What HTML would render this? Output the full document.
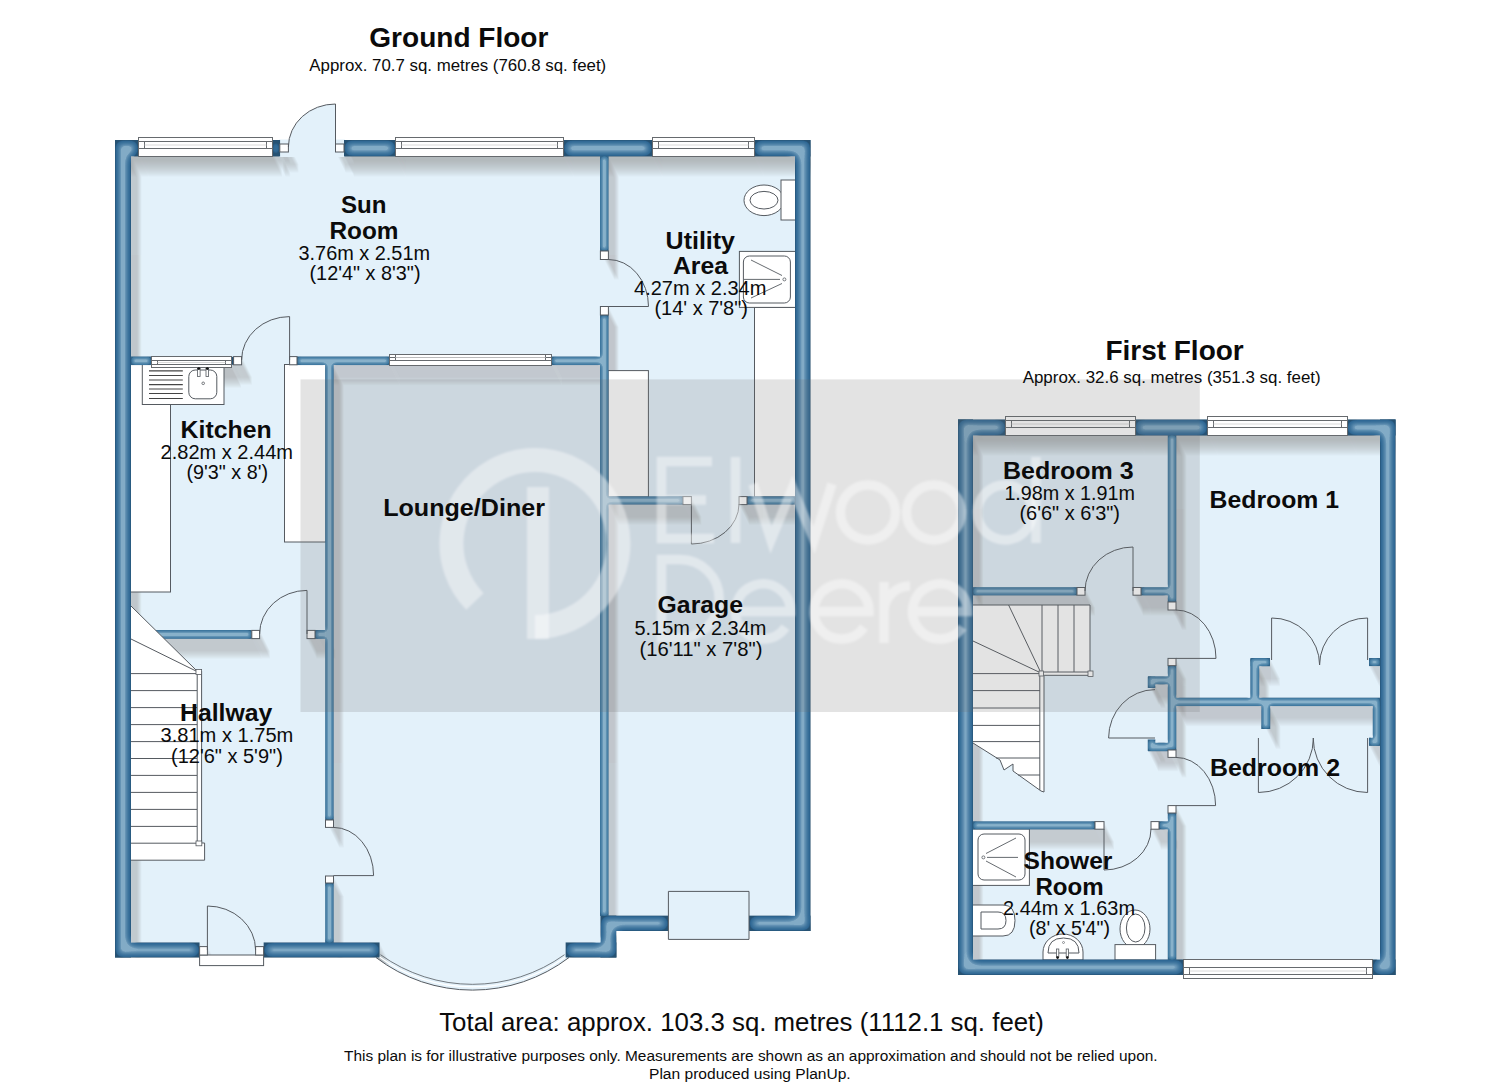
<!DOCTYPE html>
<html><head><meta charset="utf-8"><title>Floor plan</title>
<style>
html,body{margin:0;padding:0;background:#fff;}
body{width:1500px;height:1091px;overflow:hidden;font-family:"Liberation Sans",sans-serif;}
svg{display:block}
text{font-family:"Liberation Sans",sans-serif;fill:#0b0b0b}
</style></head><body>
<svg width="1500" height="1091" viewBox="0 0 1500 1091">
<defs>
<g id="gfwA"><rect x="115.0" y="140.0" width="23.5" height="16.5" /><rect x="271.6" y="140.0" width="8.5" height="16.5" /><rect x="344.0" y="140.0" width="51.7" height="16.5" /><rect x="563.6" y="140.0" width="88.6" height="16.5" /><rect x="754.0" y="140.0" width="56.5" height="16.5" /><rect x="115.0" y="140.0" width="16.0" height="817.5" /><rect x="795.0" y="140.0" width="15.5" height="791.0" /><rect x="115.0" y="942.4" width="84.6" height="15.1" /><rect x="263.6" y="942.4" width="116.0" height="15.1" /><rect x="565.6" y="942.4" width="50.8" height="15.1" /><rect x="600.4" y="915.6" width="16.0" height="41.9" /><rect x="608.0" y="915.6" width="60.4" height="15.4" /><rect x="749.0" y="915.6" width="61.5" height="15.4" /><rect x="230.7" y="356.8" width="3.3" height="8.0" /></g>
<g id="gfwB"><rect x="600.0" y="156.0" width="8.7" height="95.0" /><rect x="600.0" y="315.0" width="8.7" height="601.0" /><rect x="131.0" y="356.4" width="20.0" height="8.7" /><rect x="297.0" y="356.4" width="92.6" height="8.7" /><rect x="551.6" y="356.4" width="48.8" height="8.7" /><rect x="325.1" y="364.0" width="8.7" height="456.0" /><rect x="325.1" y="883.0" width="8.7" height="60.0" /><rect x="131.0" y="630.0" width="120.8" height="8.9" /><rect x="315.0" y="630.0" width="10.5" height="8.9" /><rect x="608.0" y="496.2" width="75.0" height="8.5" /><rect x="747.0" y="496.2" width="48.0" height="8.5" /></g>
<g id="ffwA"><rect x="958.0" y="419.4" width="15.0" height="555.6" /><rect x="958.0" y="419.4" width="47.6" height="16.2" /><rect x="1135.0" y="419.4" width="72.5" height="16.2" /><rect x="1347.0" y="419.4" width="48.6" height="16.2" /><rect x="1380.0" y="419.4" width="15.6" height="555.6" /><rect x="958.0" y="959.4" width="225.6" height="15.6" /><rect x="1372.6" y="959.4" width="23.0" height="15.6" /></g>
<g id="ffwB"><rect x="1167.7" y="435.0" width="8.7" height="167.0" /><rect x="1167.7" y="665.6" width="8.7" height="84.4" /><rect x="1167.7" y="813.0" width="8.7" height="147.0" /><rect x="973.0" y="587.1" width="104.0" height="8.4" /><rect x="1141.0" y="587.1" width="27.0" height="8.4" /><rect x="1176.0" y="697.6" width="204.0" height="8.5" /><rect x="1148.0" y="676.2" width="20.0" height="8.3" /><rect x="1147.7" y="676.6" width="7.7" height="11.4" /><rect x="1148.0" y="742.6" width="20.0" height="8.7" /><rect x="1147.7" y="739.4" width="7.7" height="11.6" /><rect x="1250.2" y="658.4" width="9.1" height="39.6" /><rect x="1250.6" y="658.0" width="19.4" height="8.3" /><rect x="1369.0" y="658.0" width="11.0" height="8.1" /><rect x="1261.2" y="705.8" width="9.1" height="23.2" /><rect x="1372.7" y="705.8" width="7.7" height="39.8" /><rect x="1369.0" y="737.6" width="11.0" height="8.3" /><rect x="973.0" y="821.2" width="122.0" height="8.3" /><rect x="1159.0" y="821.2" width="9.0" height="8.3" /></g>
<g id="gfs"><rect x="115.0" y="140.0" width="23.5" height="16.5" /><rect x="275.4" y="140.0" width="4.7" height="16.5" /><rect x="344.0" y="140.0" width="51.7" height="16.5" /><rect x="563.6" y="140.0" width="88.6" height="16.5" /><rect x="754.0" y="140.0" width="56.5" height="16.5" /><rect x="126.7" y="140.0" width="4.7" height="817.5" /><rect x="806.1" y="140.0" width="4.7" height="791.0" /><rect x="115.0" y="942.4" width="84.6" height="15.1" /><rect x="263.6" y="942.4" width="116.0" height="15.1" /><rect x="565.6" y="942.4" width="50.8" height="15.1" /><rect x="612.0" y="915.6" width="4.7" height="41.9" /><rect x="608.0" y="915.6" width="60.4" height="15.4" /><rect x="749.0" y="915.6" width="61.5" height="15.4" /><rect x="604.0" y="156.0" width="4.7" height="95.0" /><rect x="604.0" y="315.0" width="4.7" height="601.0" /><rect x="131.0" y="356.4" width="20.0" height="8.7" /><rect x="229.2" y="356.8" width="4.7" height="8.0" /><rect x="297.0" y="356.4" width="92.6" height="8.7" /><rect x="551.6" y="356.4" width="48.8" height="8.7" /><rect x="329.1" y="364.0" width="4.7" height="456.0" /><rect x="329.1" y="883.0" width="4.7" height="60.0" /><rect x="131.0" y="630.0" width="120.8" height="8.9" /><rect x="315.0" y="630.0" width="10.5" height="8.9" /><rect x="608.0" y="496.2" width="75.0" height="8.5" /><rect x="747.0" y="496.2" width="48.0" height="8.5" /><rect x="279.8" y="143.7" width="8.6" height="8.7" /><rect x="335.5" y="143.7" width="8.5" height="8.7" /><rect x="604.0" y="251.0" width="4.7" height="8.5" /><rect x="604.0" y="306.5" width="4.7" height="8.5" /><rect x="233.2" y="356.6" width="8.7" height="8.2" /><rect x="289.2" y="356.6" width="8.1" height="8.2" /><rect x="251.5" y="630.4" width="8.5" height="8.2" /><rect x="306.6" y="630.4" width="8.7" height="8.2" /><rect x="683.0" y="496.2" width="8.4" height="8.7" /><rect x="739.0" y="496.2" width="8.0" height="8.7" /><rect x="329.1" y="820.0" width="4.7" height="7.4" /><rect x="329.1" y="876.0" width="4.7" height="7.0" /><rect x="199.2" y="946.6" width="8.5" height="8.4" /><rect x="255.2" y="946.6" width="8.7" height="8.4" /><rect x="138.5" y="140.0" width="133.5" height="16.5" /><rect x="395.7" y="140.0" width="167.9" height="16.5" /><rect x="652.2" y="140.0" width="101.8" height="16.5" /><rect x="151.0" y="356.4" width="80.0" height="11.4" /><rect x="389.5" y="356.4" width="162.1" height="8.9" /></g>
<g id="ffs"><rect x="968.6" y="419.4" width="4.7" height="555.6" /><rect x="958.0" y="419.4" width="47.6" height="16.2" /><rect x="1135.0" y="419.4" width="72.5" height="16.2" /><rect x="1347.0" y="419.4" width="48.6" height="16.2" /><rect x="1391.2" y="419.4" width="4.7" height="555.6" /><rect x="958.0" y="959.4" width="225.6" height="15.6" /><rect x="1372.6" y="959.4" width="23.0" height="15.6" /><rect x="1171.7" y="435.0" width="4.7" height="167.0" /><rect x="1171.7" y="665.6" width="4.7" height="84.4" /><rect x="1171.7" y="813.0" width="4.7" height="147.0" /><rect x="973.0" y="587.1" width="104.0" height="8.4" /><rect x="1141.0" y="587.1" width="27.0" height="8.4" /><rect x="1176.0" y="697.6" width="204.0" height="8.5" /><rect x="1148.0" y="676.2" width="20.0" height="8.3" /><rect x="1150.7" y="676.6" width="4.7" height="11.4" /><rect x="1148.0" y="742.6" width="20.0" height="8.7" /><rect x="1150.7" y="739.4" width="4.7" height="11.6" /><rect x="1254.7" y="658.4" width="4.7" height="39.6" /><rect x="1250.6" y="658.0" width="19.4" height="8.3" /><rect x="1369.0" y="658.0" width="11.0" height="8.1" /><rect x="1265.7" y="705.8" width="4.7" height="23.2" /><rect x="1375.7" y="705.8" width="4.7" height="39.8" /><rect x="1369.0" y="737.6" width="11.0" height="8.3" /><rect x="973.0" y="821.2" width="122.0" height="8.3" /><rect x="1159.0" y="821.2" width="9.0" height="8.3" /><rect x="1077.0" y="587.1" width="8.0" height="8.4" /><rect x="1133.0" y="587.1" width="8.0" height="8.4" /><rect x="1171.7" y="602.0" width="4.7" height="8.0" /><rect x="1171.7" y="658.4" width="4.7" height="7.2" /><rect x="1171.7" y="750.0" width="4.7" height="7.4" /><rect x="1171.7" y="805.6" width="4.7" height="7.4" /><rect x="1095.0" y="821.2" width="9.0" height="8.3" /><rect x="1151.0" y="821.2" width="8.0" height="8.3" /><rect x="1005.6" y="419.4" width="129.4" height="16.2" /><rect x="1207.5" y="419.4" width="139.5" height="16.2" /><rect x="1183.6" y="959.4" width="189.0" height="15.6" /></g>
<clipPath id="gfclip"><path d="M115,140H810.5V931H616.4V957.5H569A159.1,159.1 0 0 1 376,957.5H115Z"/></clipPath>
<clipPath id="ffclip"><path d="M958,419.4H1395.6V975H958Z"/></clipPath>
<filter id="tubeA" x="-2%" y="-2%" width="104%" height="104%" color-interpolation-filters="sRGB">
<feGaussianBlur in="SourceAlpha" stdDeviation="4.4" result="b"/>
<feComponentTransfer in="b" result="m"><feFuncA type="table" tableValues="0 0 0 0 0 0 0 0 0 0 0 0 0 0 0 0 0 0 0 0 0 0 0 0 0 0 0 0 0 0 0 0.005 0.012 0.021 0.033 0.045 0.058 0.073 0.09 0.108 0.126 0.146 0.166 0.189 0.214 0.241 0.27 0.302 0.335 0.371 0.412 0.457 0.509 0.572 0.649 0.757 1 1 1 1 1"/></feComponentTransfer>
<feFlood flood-color="#82abc6" result="f"/>
<feComposite in="f" in2="m" operator="in" result="hl"/>
<feComponentTransfer in="b" result="e"><feFuncA type="table" tableValues="1 1 1 1 1 1 1 1 1 1 1 1 1 1 1 1 1 1 1 1 1 1 1 1 1 1 1 1 1 1 1 0.833 0.667 0.5 0.333 0.167 0 0 0 0 0 0 0 0 0 0 0 0 0 0 0 0 0 0 0 0 0 0 0 0 0"/></feComponentTransfer>
<feFlood flood-color="#264d6b" flood-opacity="0.8" result="f2"/>
<feComposite in="f2" in2="e" operator="in" result="ed"/>
<feMerge result="mm"><feMergeNode in="SourceGraphic"/><feMergeNode in="hl"/><feMergeNode in="ed"/></feMerge>
<feComposite in="mm" in2="SourceAlpha" operator="in"/>
</filter><filter id="tubeB" x="-2%" y="-2%" width="104%" height="104%" color-interpolation-filters="sRGB">
<feGaussianBlur in="SourceAlpha" stdDeviation="2.35" result="b"/>
<feComponentTransfer in="b" result="m"><feFuncA type="table" tableValues="0 0 0 0 0 0 0 0 0 0 0 0 0 0 0 0 0 0 0 0 0 0 0 0 0 0 0 0 0 0 0 0.005 0.012 0.021 0.033 0.045 0.058 0.073 0.09 0.108 0.126 0.146 0.166 0.189 0.214 0.241 0.27 0.302 0.335 0.371 0.412 0.457 0.509 0.572 0.649 0.757 1 1 1 1 1"/></feComponentTransfer>
<feFlood flood-color="#88b1ca" result="f"/>
<feComposite in="f" in2="m" operator="in" result="hl"/>
<feComponentTransfer in="b" result="e"><feFuncA type="table" tableValues="1 1 1 1 1 1 1 1 1 1 1 1 1 1 1 1 1 1 1 1 1 1 1 1 1 1 1 1 1 1 1 0.833 0.667 0.5 0.333 0.167 0 0 0 0 0 0 0 0 0 0 0 0 0 0 0 0 0 0 0 0 0 0 0 0 0"/></feComponentTransfer>
<feFlood flood-color="#2f5f82" flood-opacity="0.7" result="f2"/>
<feComposite in="f2" in2="e" operator="in" result="ed"/>
<feMerge result="mm"><feMergeNode in="SourceGraphic"/><feMergeNode in="hl"/><feMergeNode in="ed"/></feMerge>
<feComposite in="mm" in2="SourceAlpha" operator="in"/>
</filter>
<filter id="soft"><feGaussianBlur stdDeviation="0.9"/></filter>
</defs>
<rect width="1500" height="1091" fill="#fff"/>
<!-- floors -->
<path d="M115,140H810.5V931H616.4V957.5H569A159.1,159.1 0 0 1 376,957.5H115Z" fill="#e3f1fa"/>
<path d="M958,419.4H1395.6V975H958Z" fill="#e3f1fa"/>
<path d="M288.4,148 A47.1,44 0 0 1 335.5,104 V157H288.4Z" fill="#e3f1fa"/>
<!-- shadows -->
<g clip-path="url(#gfclip)"><use href="#gfs" transform="translate(0.5,1)" fill="#918c8c" opacity="0.049"/><use href="#gfs" transform="translate(1.0,2)" fill="#918c8c" opacity="0.049"/><use href="#gfs" transform="translate(1.5,3)" fill="#918c8c" opacity="0.049"/><use href="#gfs" transform="translate(2.0,4)" fill="#918c8c" opacity="0.049"/><use href="#gfs" transform="translate(2.5,5)" fill="#918c8c" opacity="0.049"/><use href="#gfs" transform="translate(3.0,6)" fill="#918c8c" opacity="0.049"/><use href="#gfs" transform="translate(3.5,7)" fill="#918c8c" opacity="0.049"/><use href="#gfs" transform="translate(4.0,8)" fill="#918c8c" opacity="0.049"/><use href="#gfs" transform="translate(4.5,9)" fill="#918c8c" opacity="0.049"/><use href="#gfs" transform="translate(5.0,10)" fill="#918c8c" opacity="0.049"/><use href="#gfs" transform="translate(5.5,11)" fill="#918c8c" opacity="0.049"/><use href="#gfs" transform="translate(6.0,12)" fill="#918c8c" opacity="0.049"/><use href="#gfs" transform="translate(6.5,13)" fill="#918c8c" opacity="0.049"/><use href="#gfs" transform="translate(7.0,14)" fill="#918c8c" opacity="0.049"/><use href="#gfs" transform="translate(7.5,15)" fill="#918c8c" opacity="0.049"/><use href="#gfs" transform="translate(8.0,16)" fill="#918c8c" opacity="0.049"/><use href="#gfs" transform="translate(8.5,17)" fill="#918c8c" opacity="0.049"/><use href="#gfs" transform="translate(9.0,18)" fill="#918c8c" opacity="0.049"/><use href="#gfs" transform="translate(9.5,19)" fill="#918c8c" opacity="0.049"/><use href="#gfs" transform="translate(10.0,20)" fill="#918c8c" opacity="0.049"/></g>
<g clip-path="url(#ffclip)"><use href="#ffs" transform="translate(0.5,1)" fill="#918c8c" opacity="0.049"/><use href="#ffs" transform="translate(1.0,2)" fill="#918c8c" opacity="0.049"/><use href="#ffs" transform="translate(1.5,3)" fill="#918c8c" opacity="0.049"/><use href="#ffs" transform="translate(2.0,4)" fill="#918c8c" opacity="0.049"/><use href="#ffs" transform="translate(2.5,5)" fill="#918c8c" opacity="0.049"/><use href="#ffs" transform="translate(3.0,6)" fill="#918c8c" opacity="0.049"/><use href="#ffs" transform="translate(3.5,7)" fill="#918c8c" opacity="0.049"/><use href="#ffs" transform="translate(4.0,8)" fill="#918c8c" opacity="0.049"/><use href="#ffs" transform="translate(4.5,9)" fill="#918c8c" opacity="0.049"/><use href="#ffs" transform="translate(5.0,10)" fill="#918c8c" opacity="0.049"/><use href="#ffs" transform="translate(5.5,11)" fill="#918c8c" opacity="0.049"/><use href="#ffs" transform="translate(6.0,12)" fill="#918c8c" opacity="0.049"/><use href="#ffs" transform="translate(6.5,13)" fill="#918c8c" opacity="0.049"/><use href="#ffs" transform="translate(7.0,14)" fill="#918c8c" opacity="0.049"/><use href="#ffs" transform="translate(7.5,15)" fill="#918c8c" opacity="0.049"/><use href="#ffs" transform="translate(8.0,16)" fill="#918c8c" opacity="0.049"/><use href="#ffs" transform="translate(8.5,17)" fill="#918c8c" opacity="0.049"/><use href="#ffs" transform="translate(9.0,18)" fill="#918c8c" opacity="0.049"/><use href="#ffs" transform="translate(9.5,19)" fill="#918c8c" opacity="0.049"/><use href="#ffs" transform="translate(10.0,20)" fill="#918c8c" opacity="0.049"/></g>
<path d="M279,139.5H345V157H279Z" fill="#e3f1fa"/>
<!-- bay window line -->
<path d="M376,957.5A159.1,159.1 0 0 0 569,957.5" fill="none" stroke="#555a60" stroke-width="1"/>
<path d="M378,957.5A160,160 0 0 0 567,957.5" fill="none" stroke="#fff" stroke-width="1.2" transform="translate(0,-1.6)"/>
<path d="M380.5,957.5A160,163 0 0 0 564.5,957.5" fill="none" stroke="#555a60" stroke-width="0.8" transform="translate(0,-2.8)"/>
<!-- furniture -->
<rect x="130" y="364" width="40.5" height="228.0" fill="#fff" stroke="#555a60" stroke-width="1"/><rect x="284.5" y="364.5" width="41.5" height="177.5" fill="#fff" stroke="#555a60" stroke-width="1"/><rect x="142.3" y="364" width="81.7" height="40.5" fill="#fff" stroke="#555a60" stroke-width="1"/><path d="M149,370.8H182.8M149,375.5H182.8M149,380H182.8M149,384.7H182.8M149,389H182.8M149,393.5H182.8M149,398.5H182.8" stroke="#444" stroke-width="1.2" fill="none"/><rect x="188.8" y="370" width="28" height="28.8" rx="6.5" fill="#fff" stroke="#555a60" stroke-width="1"/><rect x="197.5" y="368" width="2.6" height="8.5" fill="#fff" stroke="#555a60" stroke-width="0.8"/><rect x="206" y="368" width="2.6" height="8.5" fill="#fff" stroke="#555a60" stroke-width="0.8"/><circle cx="203.2" cy="383.3" r="1.3" fill="none" stroke="#555a60" stroke-width="0.8"/><rect x="608" y="370.6" width="40.4" height="126.4" fill="#fff" stroke="#555a60" stroke-width="1"/><rect x="754.5" y="307.4" width="41.5" height="189.6" fill="#fff" stroke="#555a60" stroke-width="1"/><rect x="739.4" y="251.4" width="56.6" height="56.0" fill="#fff" stroke="#555a60" stroke-width="1"/><rect x="743.4" y="256" width="47" height="47" rx="6" fill="#fff" stroke="#555a60" stroke-width="1"/><path d="M782,275.5L751,260M780,279.4H744M782,283.5L751,298" stroke="#555a60" stroke-width="0.9" fill="none"/><circle cx="784.4" cy="279.4" r="1.5" fill="none" stroke="#555a60" stroke-width="0.8"/><ellipse cx="764" cy="200.3" rx="20" ry="15.3" fill="#fff" stroke="#555a60" stroke-width="1"/><ellipse cx="764" cy="200.2" rx="14" ry="8.8" fill="#fff" stroke="#555a60" stroke-width="1"/><rect x="781" y="180" width="15.0" height="40.0" fill="#fff" stroke="#555a60" stroke-width="1"/><rect x="972" y="829" width="57.4" height="56.4" fill="#fff" stroke="#555a60" stroke-width="1"/><rect x="978" y="834" width="47" height="46" rx="6" fill="#fff" stroke="#555a60" stroke-width="1"/><path d="M986,853.5L1016,838M987,857.4H1018M986,861L1016,877" stroke="#555a60" stroke-width="0.9" fill="none"/><circle cx="983.4" cy="857.4" r="1.5" fill="none" stroke="#555a60" stroke-width="0.8"/><path d="M972,905H1003Q1015,905 1015,920.5Q1015,936 1003,936H972Z" fill="#fff" stroke="#555a60" stroke-width="1"/><path d="M981,912H998Q1006,912 1006,920.5Q1006,929 998,929H981Z" fill="#fff" stroke="#555a60" stroke-width="1"/><path d="M1043,960V952A20,18 0 0 1 1083,952V960Z" fill="#fff" stroke="#555a60" stroke-width="1"/><path d="M1048,953Q1048,938 1063.5,938Q1079,938 1079,953Z" fill="#fff" stroke="#555a60" stroke-width="1"/><rect x="1056.4" y="949" width="2.4" height="8" fill="#fff" stroke="#555a60" stroke-width="0.8"/><rect x="1066.2" y="949" width="2.4" height="8" fill="#fff" stroke="#555a60" stroke-width="0.8"/><circle cx="1057.6" cy="957.6" r="1.3" fill="#111"/><circle cx="1067.4" cy="957.6" r="1.3" fill="#111"/><circle cx="1063.5" cy="942.5" r="1" fill="none" stroke="#555a60" stroke-width="0.6"/><ellipse cx="1135" cy="929" rx="15" ry="19" fill="#fff" stroke="#555a60" stroke-width="1"/><ellipse cx="1135.7" cy="928" rx="9.3" ry="14" fill="#fff" stroke="#555a60" stroke-width="1"/><rect x="1115" y="944.6" width="40.6" height="15.4" fill="#fff" stroke="#555a60" stroke-width="1"/>
<!-- walls -->
<g filter="url(#tubeA)" fill="#2b6592"><use href="#gfwA"/><use href="#ffwA"/></g>
<g filter="url(#tubeB)" fill="#3d779f"><use href="#gfwB"/><use href="#ffwB"/></g>
<!-- garage door -->
<path d="M668.4,891.4H749V939.4H668.4Z" fill="#e3f1fa" stroke="#555a60" stroke-width="1"/>
<!-- front step -->
<rect x="199.6" y="955" width="64" height="10.6" fill="#fff" stroke="#555a60" stroke-width="1"/>
<!-- stairs -->
<path d="M131,606L197,671H201.6V843H204.6V860.2H131Z" fill="#fff" stroke="none"/><path d="M131,606L197,671M131,639L197,671.5M201.6,671V843H204.6V860.2H131" fill="none" stroke="#555a60" stroke-width="1"/><path d="M131,673.6H197M131,690.6H197M131,707.6H197M131,724.6H197M131,741.6H197M131,758.5H197M131,775.4H197M131,792.4H197M131,809.4H197M131,826.4H197M131,843.2H197" stroke="#555a60" stroke-width="1" fill="none"/><path d="M197.2,673V843" stroke="#555a60" stroke-width="1" fill="none"/><rect x="196" y="669.5" width="5.6" height="5" fill="#fff" stroke="#555a60" stroke-width="0.8"/><rect x="196" y="841" width="5.8" height="4.8" fill="#fff" stroke="#555a60" stroke-width="0.8"/><path d="M973,605H1090V675H1044V792L1041,791L1013,771V764L1004,770L1000,760L973,743Z" fill="#fff" stroke="none"/><path d="M973,605H1090V672M1042,605V672M1058,605V672M1074,605V672M1041,673L1008.6,605M1041,673L973,641M973,673.6H1041M1041,672H1090M1043,675.3H1090M1039.8,676V790M1044,676V792L1041,791L1013,771V764L1004,770L1000,760L973,743" fill="none" stroke="#555a60" stroke-width="1"/><path d="M973,690.6H1040M973,708H1040M973,725.4H1040M973,741.6H1040M996,758H1040M1018,775H1040" stroke="#555a60" stroke-width="1" fill="none"/><rect x="1088" y="671" width="5" height="5.4" fill="#fff" stroke="#555a60" stroke-width="0.8"/><rect x="1039" y="671" width="4.6" height="5" fill="#fff" stroke="#555a60" stroke-width="0.8"/>
<!-- jambs -->
<g fill="#fff" stroke="#555a60" stroke-width="1"><rect x="279.8" y="144.0" width="8.6" height="8.0" /><rect x="335.5" y="144.0" width="8.5" height="8.0" /><rect x="600.4" y="251.0" width="8.0" height="8.5" /><rect x="600.4" y="306.5" width="8.0" height="8.5" /><rect x="233.6" y="356.6" width="8.0" height="8.2" /><rect x="289.6" y="356.6" width="7.4" height="8.2" /><rect x="251.8" y="630.4" width="7.8" height="8.2" /><rect x="307.0" y="630.4" width="8.0" height="8.2" /><rect x="683.0" y="496.6" width="8.4" height="8.0" /><rect x="739.0" y="496.6" width="8.0" height="8.0" /><rect x="325.5" y="820.0" width="8.0" height="7.4" /><rect x="325.5" y="876.0" width="8.0" height="7.0" /><rect x="199.6" y="946.6" width="7.8" height="8.4" /><rect x="255.6" y="946.6" width="8.0" height="8.4" /><rect x="1077.0" y="587.5" width="8.0" height="7.7" /><rect x="1133.0" y="587.5" width="8.0" height="7.7" /><rect x="1168.0" y="602.0" width="8.0" height="8.0" /><rect x="1168.0" y="658.4" width="8.0" height="7.2" /><rect x="1168.0" y="750.0" width="8.0" height="7.4" /><rect x="1168.0" y="805.6" width="8.0" height="7.4" /><rect x="1095.0" y="821.6" width="9.0" height="7.6" /><rect x="1151.0" y="821.6" width="8.0" height="7.6" /></g>
<!-- windows -->
<rect x="138.5" y="137.5" width="134.0" height="19.0" fill="#fff" stroke="#666a6e" stroke-width="1"/><path d="M138.5,141.5H272.5M138.5,148.5H272.5M144.5,141.5V148.5M266.5,141.5V148.5" stroke="#666a6e" stroke-width="1" fill="none"/><path d="M144.5,145.0H266.5" stroke="#d0d0d0" stroke-width="0.8" fill="none"/><rect x="395.5" y="137.5" width="168.0" height="19.0" fill="#fff" stroke="#666a6e" stroke-width="1"/><path d="M395.5,141.5H563.5M395.5,148.5H563.5M401.5,141.5V148.5M557.5,141.5V148.5" stroke="#666a6e" stroke-width="1" fill="none"/><path d="M401.5,145.0H557.5" stroke="#d0d0d0" stroke-width="0.8" fill="none"/><rect x="652.5" y="137.5" width="102.0" height="19.0" fill="#fff" stroke="#666a6e" stroke-width="1"/><path d="M652.5,141.5H754.5M652.5,148.5H754.5M658.5,141.5V148.5M748.5,141.5V148.5" stroke="#666a6e" stroke-width="1" fill="none"/><path d="M658.5,145.0H748.5" stroke="#d0d0d0" stroke-width="0.8" fill="none"/><rect x="151.5" y="356.5" width="80.0" height="11.0" fill="#fff" stroke="#666a6e" stroke-width="1"/><path d="M151.5,360.5H231.5M151.5,364.5H231.5M157.5,360.5V364.5M225.5,360.5V364.5" stroke="#666a6e" stroke-width="1" fill="none"/><path d="M157.5,362.5H225.5" stroke="#d0d0d0" stroke-width="0.8" fill="none"/><rect x="389.5" y="354.5" width="162.0" height="11.0" fill="#fff" stroke="#666a6e" stroke-width="1"/><path d="M389.5,357.5H551.5M389.5,360.5H551.5M395.5,354.5V360.5M545.5,354.5V360.5" stroke="#666a6e" stroke-width="1" fill="none"/><path d="M395.5,357.5H545.5" stroke="#d0d0d0" stroke-width="0.8" fill="none"/><rect x="1005.5" y="416.5" width="130.0" height="19.0" fill="#fff" stroke="#666a6e" stroke-width="1"/><path d="M1005.5,420.5H1135.5M1005.5,427.5H1135.5M1011.5,420.5V427.5M1129.5,420.5V427.5" stroke="#666a6e" stroke-width="1" fill="none"/><path d="M1011.5,424.0H1129.5" stroke="#d0d0d0" stroke-width="0.8" fill="none"/><rect x="1207.5" y="416.5" width="140.0" height="19.0" fill="#fff" stroke="#666a6e" stroke-width="1"/><path d="M1207.5,420.5H1347.5M1207.5,427.5H1347.5M1213.5,420.5V427.5M1341.5,420.5V427.5" stroke="#666a6e" stroke-width="1" fill="none"/><path d="M1213.5,424.0H1341.5" stroke="#d0d0d0" stroke-width="0.8" fill="none"/><rect x="1183.5" y="959.5" width="189.0" height="19.0" fill="#fff" stroke="#666a6e" stroke-width="1"/><path d="M1183.5,967.5H1372.5M1183.5,974.5H1372.5M1189.5,967.5V974.5M1366.5,967.5V974.5" stroke="#666a6e" stroke-width="1" fill="none"/><path d="M1189.5,971.0H1366.5" stroke="#d0d0d0" stroke-width="0.8" fill="none"/>
<circle cx="198.8" cy="368.6" r="1.4" fill="#111"/><circle cx="207.3" cy="368.6" r="1.4" fill="#111"/>
<!-- doors -->
<path d="M288.4,147 A47.1,43 0 0 1 335.5,104 V148" fill="none" stroke="#555a60" stroke-width="1"/><path d="M608.4,259.5 A40.1,47 0 0 1 648.5,306.5 H608.4" fill="none" stroke="#555a60" stroke-width="1"/><path d="M241.6,360 A48,43.4 0 0 1 289.6,316.6 V360" fill="none" stroke="#555a60" stroke-width="1"/><path d="M259.6,634 A47.4,43.6 0 0 1 307,590.4 V634" fill="none" stroke="#555a60" stroke-width="1"/><path d="M691.4,504 V544 A47.6,40 0 0 0 739,504" fill="none" stroke="#555a60" stroke-width="1"/><path d="M333.5,827.4 A40.1,48.2 0 0 1 373.6,875.6 H333.5" fill="none" stroke="#555a60" stroke-width="1"/><path d="M207.4,950 V906 A48.2,44 0 0 1 255.6,950" fill="none" stroke="#555a60" stroke-width="1"/><path d="M1085,591 A48,44 0 0 1 1133,547 V591" fill="none" stroke="#555a60" stroke-width="1"/><path d="M1176,610 A40,48.4 0 0 1 1216,658.4 H1176" fill="none" stroke="#555a60" stroke-width="1"/><path d="M1176,757.4 A39.6,48.2 0 0 1 1215.6,805.6 H1176" fill="none" stroke="#555a60" stroke-width="1"/><path d="M1155,738 H1108.6 A46.4,48.4 0 0 1 1155,689.6" fill="none" stroke="#555a60" stroke-width="1"/><path d="M1104,829 V870 A47,41 0 0 0 1151,829" fill="none" stroke="#555a60" stroke-width="1"/><path d="M1271.6,660 V618 A47.5,47 0 0 1 1319.6,665" fill="none" stroke="#555a60" stroke-width="1"/><path d="M1367.6,660 V618 A47.5,47 0 0 0 1319.6,665" fill="none" stroke="#555a60" stroke-width="1"/><path d="M1258.4,738 V792.5 A55,54.5 0 0 0 1313.4,738" fill="none" stroke="#555a60" stroke-width="1"/><path d="M1367.6,738 V792.5 A54.4,54.5 0 0 1 1313.2,738" fill="none" stroke="#555a60" stroke-width="1"/>
<!-- watermark -->
<rect x="300.5" y="379.4" width="899.3" height="332.6" fill="#6a6a6a" fill-opacity="0.19"/>
<g fill="none" stroke="#fff" stroke-opacity="0.42" stroke-linecap="butt" filter="url(#soft)"><path d="M474.9,601.5 A83.5,83.5 0 1 1 535.0,627.0" stroke-width="24"/><path d="M538,639 V487" stroke-width="22"/><g stroke-width="9.5"><path d="M712,461.5H661.5V538.5H714M661.5,500H706"/><path d="M735.5,457V543"/><path d="M753,484L771,540L792.5,488L814,540L832,484"/><circle cx="868" cy="512.5" r="27.5"/><circle cx="934" cy="512.5" r="27.5"/><circle cx="1005" cy="512.5" r="27.5"/><path d="M1036,457V543"/><path d="M661.5,559.5V638H680A39.2,39.2 0 0 0 680,559.5Z"/><path d="M735.5,611.5H790.5A27.5,27.5 0 1 0 785.5,627.3"/><path d="M814.0,611.5H869.0A27.5,27.5 0 1 0 864.0,627.3"/><path d="M884,582V643M884,612A26,26 0 0 1 910,586"/><path d="M912.5,611.5H967.5A27.5,27.5 0 1 0 962.5,627.3"/></g></g>
<!-- text -->
<text x="369.3" y="47.4" font-size="28" font-weight="700" textLength="179.1" lengthAdjust="spacingAndGlyphs">Ground Floor</text><text x="309.3" y="70.7" font-size="16.9" textLength="296.9" lengthAdjust="spacingAndGlyphs">Approx. 70.7 sq. metres (760.8 sq. feet)</text><text x="1105.4" y="360.1" font-size="28" font-weight="700" textLength="138.3" lengthAdjust="spacingAndGlyphs">First Floor</text><text x="1022.7" y="382.8" font-size="16.9" textLength="298.0" lengthAdjust="spacingAndGlyphs">Approx. 32.6 sq. metres (351.3 sq. feet)</text><text x="439.2" y="1030.8" font-size="25.8" textLength="604.7" lengthAdjust="spacingAndGlyphs">Total area: approx. 103.3 sq. metres (1112.1 sq. feet)</text><text x="344.0" y="1061.0" font-size="15.5" textLength="813.6" lengthAdjust="spacingAndGlyphs">This plan is for illustrative purposes only. Measurements are shown as an approximation and should not be relied upon.</text><text x="649.0" y="1078.6" font-size="15.5" textLength="201.7" lengthAdjust="spacingAndGlyphs">Plan produced using PlanUp.</text><text x="341.0" y="213.0" font-size="24.8" font-weight="700" textLength="45.5" lengthAdjust="spacingAndGlyphs">Sun</text><text x="329.5" y="239.0" font-size="24.8" font-weight="700" textLength="69.0" lengthAdjust="spacingAndGlyphs">Room</text><text x="298.5" y="259.5" font-size="19.9" textLength="131.5" lengthAdjust="spacingAndGlyphs">3.76m x 2.51m</text><text x="309.5" y="279.5" font-size="19.9" textLength="111.0" lengthAdjust="spacingAndGlyphs">(12'4&quot; x 8'3&quot;)</text><text x="665.6" y="249.0" font-size="24.8" font-weight="700" textLength="69.4" lengthAdjust="spacingAndGlyphs">Utility</text><text x="673.0" y="274.0" font-size="24.8" font-weight="700" textLength="55.0" lengthAdjust="spacingAndGlyphs">Area</text><text x="634.0" y="295.0" font-size="19.9" textLength="132.4" lengthAdjust="spacingAndGlyphs">4.27m x 2.34m</text><text x="654.4" y="315.0" font-size="19.9" textLength="93.6" lengthAdjust="spacingAndGlyphs">(14' x 7'8&quot;)</text><text x="180.6" y="438.0" font-size="24.8" font-weight="700" textLength="91.0" lengthAdjust="spacingAndGlyphs">Kitchen</text><text x="160.6" y="459.0" font-size="19.9" textLength="132.4" lengthAdjust="spacingAndGlyphs">2.82m x 2.44m</text><text x="186.4" y="479.0" font-size="19.9" textLength="81.6" lengthAdjust="spacingAndGlyphs">(9'3&quot; x 8')</text><text x="383.2" y="516.0" font-size="24.8" font-weight="700" textLength="161.8" lengthAdjust="spacingAndGlyphs">Lounge/Diner</text><text x="657.6" y="613.0" font-size="24.8" font-weight="700" textLength="85.4" lengthAdjust="spacingAndGlyphs">Garage</text><text x="634.4" y="635.0" font-size="19.9" textLength="132.0" lengthAdjust="spacingAndGlyphs">5.15m x 2.34m</text><text x="639.4" y="655.6" font-size="19.9" textLength="123.0" lengthAdjust="spacingAndGlyphs">(16'11&quot; x 7'8&quot;)</text><text x="180.0" y="721.0" font-size="24.8" font-weight="700" textLength="92.4" lengthAdjust="spacingAndGlyphs">Hallway</text><text x="160.5" y="742.2" font-size="19.9" textLength="132.8" lengthAdjust="spacingAndGlyphs">3.81m x 1.75m</text><text x="171.0" y="762.8" font-size="19.9" textLength="111.8" lengthAdjust="spacingAndGlyphs">(12'6&quot; x 5'9&quot;)</text><text x="1003.0" y="479.4" font-size="24.8" font-weight="700" textLength="130.6" lengthAdjust="spacingAndGlyphs">Bedroom 3</text><text x="1004.4" y="500.0" font-size="19.9" textLength="130.6" lengthAdjust="spacingAndGlyphs">1.98m x 1.91m</text><text x="1019.4" y="520.0" font-size="19.9" textLength="100.6" lengthAdjust="spacingAndGlyphs">(6'6&quot; x 6'3&quot;)</text><text x="1209.6" y="508.0" font-size="24.8" font-weight="700" textLength="129.4" lengthAdjust="spacingAndGlyphs">Bedroom 1</text><text x="1210.0" y="775.6" font-size="24.8" font-weight="700" textLength="130.0" lengthAdjust="spacingAndGlyphs">Bedroom 2</text><text x="1023.6" y="868.6" font-size="24.8" font-weight="700" textLength="88.8" lengthAdjust="spacingAndGlyphs">Shower</text><text x="1035.4" y="894.6" font-size="24.8" font-weight="700" textLength="68.2" lengthAdjust="spacingAndGlyphs">Room</text><text x="1003.0" y="915.0" font-size="19.9" textLength="132.0" lengthAdjust="spacingAndGlyphs">2.44m x 1.63m</text><text x="1029.0" y="935.0" font-size="19.9" textLength="81.0" lengthAdjust="spacingAndGlyphs">(8' x 5'4&quot;)</text>

</svg>
</body></html>
